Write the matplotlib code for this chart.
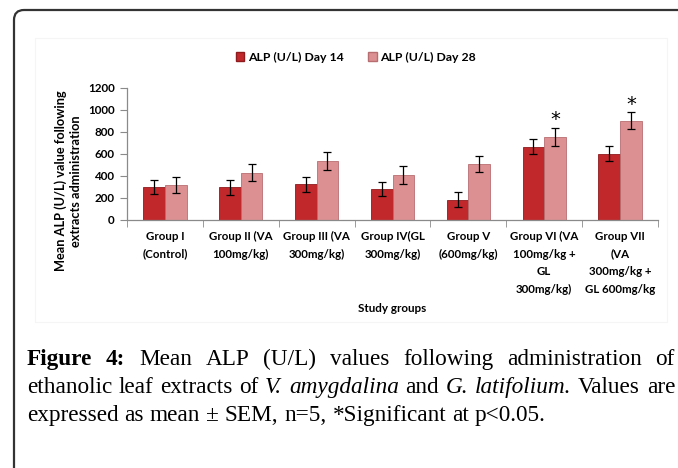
import matplotlib
matplotlib.use("Agg")
import matplotlib.pyplot as plt
import numpy as np
from matplotlib.patches import FancyBboxPatch, Rectangle, Patch
from matplotlib.transforms import IdentityTransform
from matplotlib.ticker import FixedLocator

# ---------------- data ----------------
categories = [
    "Group I\n(Control)",
    "Group II (VA\n100mg/kg)",
    "Group III (VA\n300mg/kg)",
    "Group IV(GL\n300mg/kg)",
    "Group V\n(600mg/kg)",
    "Group VI (VA\n100mg/kg +\nGL\n300mg/kg)",
    "Group VII\n(VA\n300mg/kg +\nGL 600mg/kg",
]
series_names = ["ALP (U/L) Day 14", "ALP (U/L) Day 28"]
day14 = [300, 295, 325, 280, 185, 665, 600]
day14_err = [67, 67, 67, 65, 65, 68, 67]
day28 = [320, 430, 535, 410, 510, 755, 900]
day28_err = [73, 75, 79, 79, 75, 82, 76]
significant28 = [False, False, False, False, False, True, True]
yticks = [0, 200, 400, 600, 800, 1000, 1200]

W, H = 678, 468
fig = plt.figure(figsize=(W / 100, H / 100), dpi=100)
fig.patch.set_facecolor("white")

UI = "Lato"

# outer rounded frame
frame = FancyBboxPatch((14, -60), 720, 518, boxstyle="round,pad=0,rounding_size=10",
                       transform=IdentityTransform(), facecolor="none",
                       edgecolor="#333333", linewidth=1.6, clip_on=False)
fig.add_artist(frame)
# faint chart area box
inner = Rectangle((35, H - 322), 632, 284, transform=IdentityTransform(),
                  facecolor="none", edgecolor="#f5f5f5", linewidth=0.8)
fig.add_artist(inner)

# axes placement (pixel derived)
left, right, top, bottom = 127, 658, 87.7, 220
ax = fig.add_axes([left / W, 1 - bottom / H, (right - left) / W, (bottom - top) / H])

x = np.arange(len(categories))
bw = 0.286
c14, e14 = "#c0282b", "#8e1b1d"
c28, e28 = "#dc9092", "#b86e70"
ax.bar(x - bw / 2, day14, bw, color=c14, edgecolor=e14, linewidth=0.6, zorder=2)
ax.bar(x + bw / 2, day28, bw, color=c28, edgecolor=e28, linewidth=0.6, zorder=2)
ekw = dict(fmt="none", ecolor="black", elinewidth=0.9, capsize=3.2, capthick=0.9, zorder=3)
ax.errorbar(x - bw / 2, day14, yerr=day14_err, **ekw)
ax.errorbar(x + bw / 2, day28, yerr=day28_err, **ekw)

for xi, v, e, s in zip(x, day28, day28_err, significant28):
    if s:
        ax.annotate("*", (xi + bw / 2, v + e), xytext=(0, -1), textcoords="offset points",
                    ha="center", va="bottom", fontsize=14, fontfamily="DejaVu Sans")

ax.set_xlim(-0.5, len(categories) - 0.5)
ax.set_ylim(0, 1200)
ax.set_yticks(yticks)
ax.set_yticklabels([str(t) for t in yticks], fontsize=8.4, fontweight="bold", fontfamily=UI)
ax.set_xticks(x)
ax.set_xticklabels(categories, fontsize=8.3, fontweight="bold", fontfamily=UI,
                   linespacing=1.72, va="top")
ax.xaxis.set_minor_locator(FixedLocator(np.arange(-0.5, len(categories), 1.0)))
ax.tick_params(axis="x", which="major", length=0, pad=8)
ax.tick_params(axis="x", which="minor", length=5, color="#8a8a8a", direction="out")
ax.tick_params(axis="y", length=5, color="#8a8a8a", direction="out", pad=4)
for sp in ["top", "right"]:
    ax.spines[sp].set_visible(False)
for sp in ["left", "bottom"]:
    ax.spines[sp].set_color("#8a8a8a")
    ax.spines[sp].set_linewidth(0.9)
ax.set_facecolor("none")

# axis titles
fig.text(68 / W, 1 - 181 / H, "Mean ALP (U/L) value following\nextracts administration",
         rotation=90, ha="center", va="center", multialignment="center",
         fontsize=9.2, fontweight="bold", fontfamily=UI, linespacing=1.35)
fig.text(392 / W, 1 - 308 / H, "Study groups", ha="center", va="center",
         fontsize=8.4, fontweight="bold", fontfamily=UI)

# legend
handles = [Patch(facecolor=c14, edgecolor=e14), Patch(facecolor=c28, edgecolor=e28)]
fig.legend(handles, series_names, loc="center", bbox_to_anchor=(356 / W, 1 - 57 / H),
           ncol=2, frameon=False, prop=dict(family=UI, weight="bold", size=8.8),
           handlelength=0.7, handleheight=0.7, handletextpad=0.3, columnspacing=2.0)

# ---------------- caption ----------------
SERIF = "Liberation Serif"
fig.canvas.draw()
renderer = fig.canvas.get_renderer()


def width_of(txt, fs, **kw):
    t = fig.text(0, 0, txt, fontsize=fs, fontfamily=SERIF, **kw)
    w = t.get_window_extent(renderer).width
    t.remove()
    return w


def natural_width(runs, fs):
    gap = width_of("a a", fs) - width_of("aa", fs)
    return sum(width_of(r, fs, **kw) for r, kw in runs) + gap * (len(runs) - 1)


def place_line(runs, y_px, x0, fs, x1=None):
    widths = [width_of(r, fs, **kw) for r, kw in runs]
    if x1 is None:
        gap = width_of("a a", fs) - width_of("aa", fs)
    else:
        gap = (x1 - x0 - sum(widths)) / (len(runs) - 1)
    xc = x0
    for (r, kw), w in zip(runs, widths):
        fig.text(xc / W, 1 - y_px / H, r, fontsize=fs, fontfamily=SERIF,
                 va="baseline", ha="left", **kw)
        xc += w + gap


B = dict(fontweight="bold")
I = dict(fontstyle="italic")
N = {}
line1 = [("Figure", B), ("4:", B)] + [(w, N) for w in
         "Mean ALP (U/L) values following administration of".split()]
line2 = [(w, N) for w in "ethanolic leaf extracts of".split()] + \
        [("V.", I), ("amygdalina", I), ("and", N), ("G.", I), ("latifolium.", I),
         ("Values", N), ("are", N)]
line3 = [(w, N) for w in "expressed as mean ± SEM, n=5, *Significant at p<0.05.".split()]

X0, X1 = 27, 675
ref = 12.0
CAP_FS = ref * 516 / natural_width(line3, ref)

place_line(line1, 365, X0, CAP_FS, X1)
place_line(line2, 393, X0, CAP_FS, X1)
place_line(line3, 421, X0, CAP_FS)

fig.savefig("out.png", dpi=100)
